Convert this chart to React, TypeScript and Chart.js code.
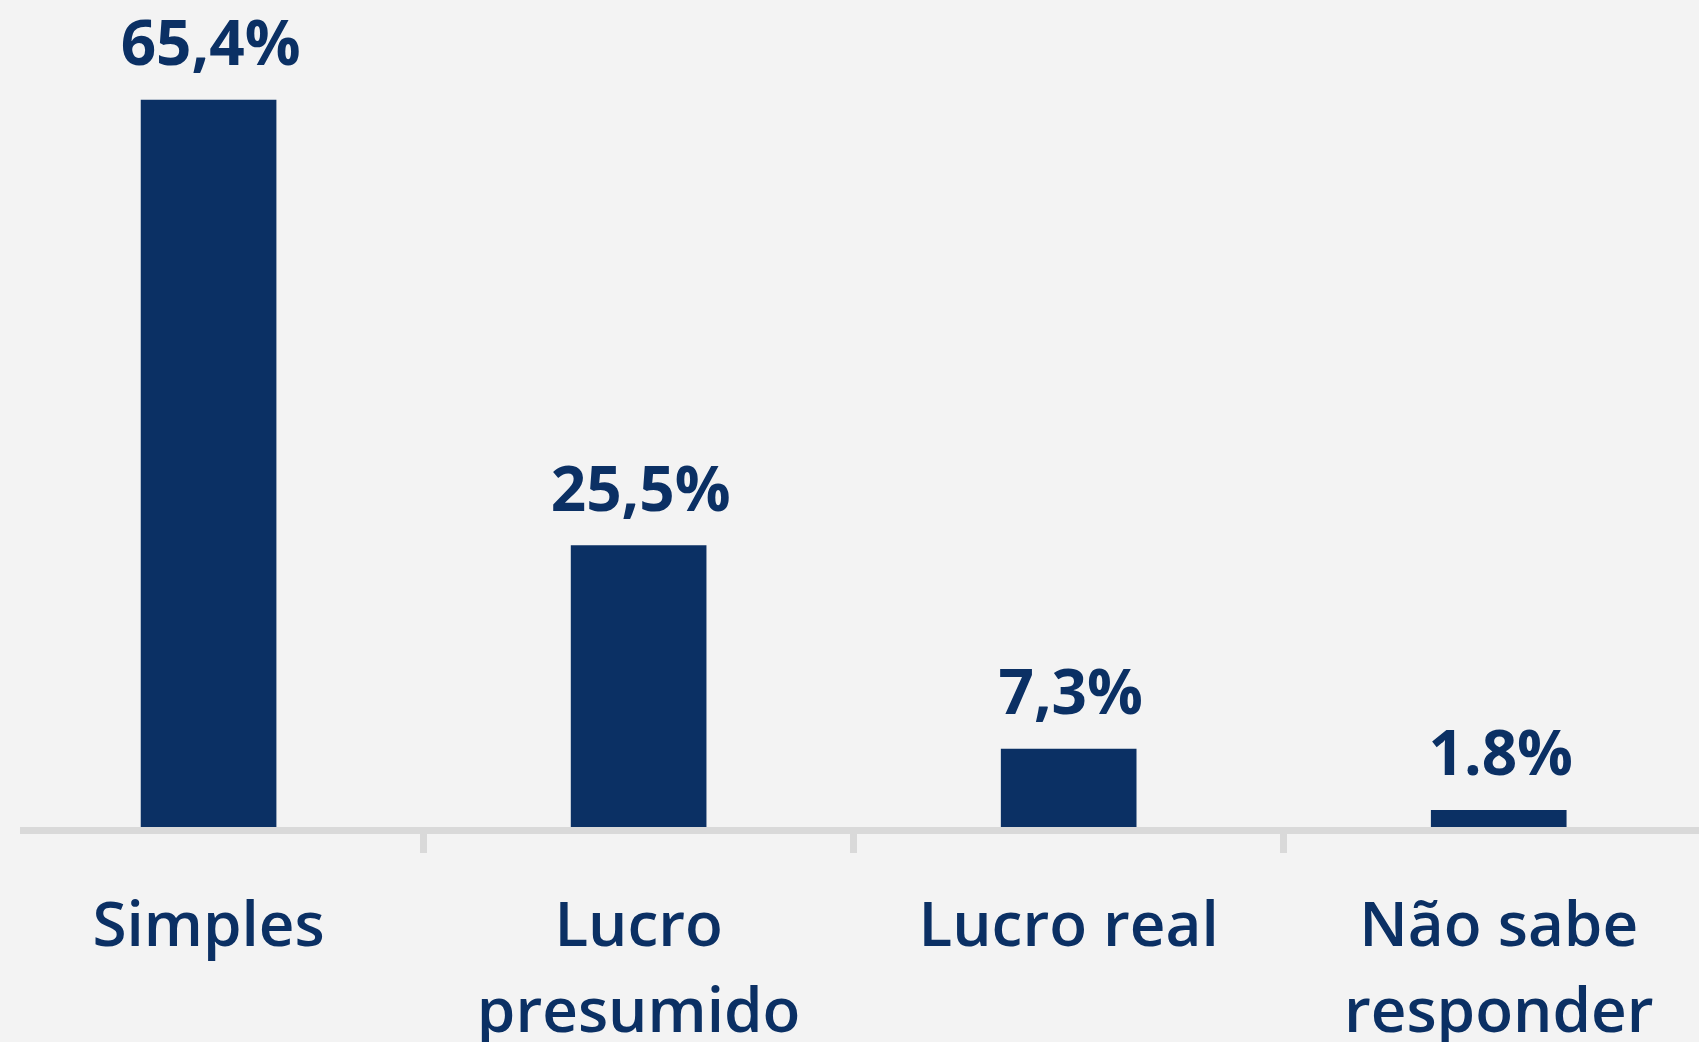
import React, { useEffect, useRef } from "react";
import { Chart, registerables } from "chart.js";

Chart.register(...registerables);

const categories: string[][] = [["Simples"], ["Lucro", "presumido"], ["Lucro real"], ["Não sabe", "responder"]];
const values: number[] = [65.4, 25.5, 7.3, 1.8];
const valueLabels: string[] = ["65,4%", "25,5%", "7,3%", "1.8%"];

const NAVY = "#0B3064";
const AXIS = "#D9D9D9";
const BG = "#F3F3F3";

const CANVAS_W = 1760;
const CANVAS_H = 1042;

const valueLabelPlugin = {
  id: "valueLabels",
  afterDatasetsDraw(chart: any) {
    const ctx = chart.ctx;
    const meta = chart.getDatasetMeta(0);
    ctx.save();
    ctx.fillStyle = NAVY;
    ctx.font = "700 62px 'Open Sans'";
    ctx.textAlign = "center";
    ctx.textBaseline = "alphabetic";
    meta.data.forEach((bar: any, i: number) => {
      ctx.fillText(valueLabels[i], bar.x + 2, bar.y - 35);
    });
    ctx.restore();
  },
};

export default function App() {
  const canvasRef = useRef<HTMLCanvasElement | null>(null);

  useEffect(() => {
    if (!canvasRef.current) return;
    const chart = new Chart(canvasRef.current, {
      type: "bar",
      data: {
        labels: categories,
        datasets: [
          {
            data: values,
            backgroundColor: NAVY,
            borderWidth: 0,
            barThickness: 135,
          },
        ],
      },
      options: {
        responsive: false,
        animation: false,
        devicePixelRatio: 1,
        layout: { padding: { left: 13.55, right: 26.25, top: 48.6, bottom: 0 } },
        plugins: {
          legend: { display: false },
          tooltip: { enabled: false },
        },
        scales: {
          x: {
            offset: true,
            afterFit: (scale: any) => {
              scale.height = 211.5;
            },
            grid: {
              offset: true,
              drawOnChartArea: false,
              drawTicks: true,
              tickLength: 22.5,
              lineWidth: 7,
              color: AXIS,
            },
            border: { display: true, color: AXIS, width: 7, z: 1 },
            ticks: {
              autoSkip: false,
              maxRotation: 0,
              minRotation: 0,
              padding: 33,
              color: NAVY,
              font: { family: "'Open Sans'", size: 62, weight: "600", lineHeight: 1.38 },
            },
          },
          y: {
            display: false,
            min: 0,
            max: 70,
          },
        },
      },
      plugins: [valueLabelPlugin],
    });
    return () => chart.destroy();
  }, []);

  return (
    <div
      style={{
        position: "fixed",
        left: 0,
        top: 0,
        width: 1699,
        height: 1042,
        background: BG,
        overflow: "hidden",
      }}
    >
      <div
        style={{
          position: "absolute",
          left: 20,
          top: 0,
          width: 1679,
          height: 1042,
          overflow: "hidden",
        }}
      >
        <canvas
          ref={canvasRef}
          width={CANVAS_W}
          height={CANVAS_H}
          style={{ position: "absolute", left: -40, top: 0, width: CANVAS_W, height: CANVAS_H }}
        />
      </div>
    </div>
  );
}
